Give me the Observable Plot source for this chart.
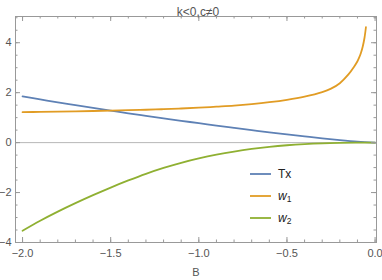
<!DOCTYPE html>
<html><head><meta charset="utf-8">
<script src="https://cdn.jsdelivr.net/npm/d3@7"></script>
<script src="https://cdn.jsdelivr.net/npm/@observablehq/plot@0.6"></script>
<style>
body{margin:0;background:#fff;font-family:"Liberation Sans",Arial,sans-serif;}
#wrap{position:relative;width:382px;height:280px;}
#legend{position:absolute;left:250px;top:163px;font-size:12px;color:#222;}
#legend .row{display:flex;align-items:center;height:22px;}
#legend svg{margin-right:7px;}
#legend sub{font-size:8.5px;vertical-align:-2px;}
</style>
</head><body><div id="wrap"><div id="legend"></div></div>
<script>
// ---- data ----
const B   = [-2.0,-1.9,-1.8,-1.7,-1.6,-1.5,-1.4,-1.3,-1.2,-1.1,-1.0,-0.9,-0.8,-0.7,-0.6,-0.5,-0.4,-0.3,-0.2,-0.1,0.0];
const Tx  = [1.85,1.73,1.61,1.50,1.39,1.28,1.17,1.07,0.97,0.87,0.78,0.68,0.59,0.50,0.41,0.33,0.25,0.17,0.10,0.04,0.0];
const w2  = [-3.53,-3.13,-2.765,-2.425,-2.105,-1.80,-1.515,-1.25,-1.015,-0.81,-0.635,-0.485,-0.36,-0.255,-0.17,-0.105,-0.058,-0.027,-0.01,-0.002,0.0];
const B1  = [-2.0,-1.9,-1.8,-1.7,-1.6,-1.5,-1.4,-1.3,-1.2,-1.1,-1.0,-0.9,-0.8,-0.7,-0.6,-0.5,-0.4,-0.3,-0.25,-0.2,-0.15,-0.12,-0.1,-0.09,-0.08,-0.07,-0.06,-0.052];
const w1  = [1.22,1.23,1.24,1.252,1.265,1.28,1.297,1.316,1.338,1.365,1.397,1.44,1.485,1.545,1.62,1.715,1.84,2.02,2.16,2.38,2.74,3.03,3.26,3.41,3.60,3.85,4.20,4.62];
const xTicks = [-2,-1.5,-1,-0.5,0];
const yTicks = [-4,-2,0,2,4];
const title = "k<0,c\u22600";
const xLabel = "B";
const seriesNames = ["Tx","w1","w2"];
const seriesLabels = ["Tx","<i>w</i><sub>1</sub>","<i>w</i><sub>2</sub>"];
const colors = ["#5e81b5","#e19c24","#8fb032"];

// ---- build ----
const rows = [];
B.forEach((b,i)=>rows.push({B:b, v:Tx[i], s:"Tx"}));
B1.forEach((b,i)=>rows.push({B:b, v:w1[i], s:"w1"}));
B.forEach((b,i)=>rows.push({B:b, v:w2[i], s:"w2"}));

const W=382, H=280, mL=15, mR=6, mT=16, mB=38;
const innerW=W-mL-mR, innerH=H-mT-mB;
const xMinor = d3.range(-20,1).map(d=>d/10);
const yMinor = d3.range(-8,11).map(d=>d/2);
const fmt = d => (d<0?"\u2212":"") + Math.abs(d).toFixed(1);
const fmtY = d => (d<0?"\u2212":"") + Math.abs(d);
const frameC="#999", labC="#555";

const plot = Plot.plot({
  width:W, height:H, marginLeft:mL, marginRight:mR, marginTop:mT, marginBottom:mB,
  style:{fontFamily:"Liberation Sans, Arial, sans-serif", background:"#fff"},
  x:{domain:[-2.04,0.008]},
  y:{domain:[-4,5.05]},
  color:{domain:seriesNames, range:colors},
  marks:[
    Plot.ruleY([0],{stroke:"#b8b8b8", strokeWidth:1}),
    Plot.line(rows,{x:"B", y:"v", z:"s", stroke:"s", strokeWidth:1.8, curve:"catmull-rom"}),
    Plot.frame({stroke:frameC}),
    Plot.tickX(xMinor,{x:d=>d, insetTop:innerH-2.5, stroke:frameC}),
    Plot.tickX(xMinor,{x:d=>d, insetBottom:innerH-2.5, stroke:frameC}),
    Plot.tickX(xTicks,{x:d=>d, insetTop:innerH-5, stroke:frameC}),
    Plot.tickX(xTicks,{x:d=>d, insetBottom:innerH-5, stroke:frameC}),
    Plot.tickY(yMinor,{y:d=>d, insetRight:innerW-2.5, stroke:frameC}),
    Plot.tickY(yMinor,{y:d=>d, insetLeft:innerW-2.5, stroke:frameC}),
    Plot.tickY(yTicks,{y:d=>d, insetRight:innerW-5, stroke:frameC}),
    Plot.tickY(yTicks,{y:d=>d, insetLeft:innerW-5, stroke:frameC}),
    Plot.axisX(xTicks,{anchor:"bottom", tickSize:0, tickPadding:7, tickFormat:fmt, fontSize:11, fill:labC, label:null}),
    Plot.axisY(yTicks,{anchor:"left", tickSize:0, tickPadding:4, tickFormat:fmtY, fontSize:11, fill:labC, label:null}),
    Plot.text([xLabel],{frameAnchor:"bottom", dy:33, fontSize:11, fill:labC}),
    Plot.text([title],{frameAnchor:"top", dy:-9, dx:2, fontSize:12, fill:labC})
  ]
});
document.getElementById("wrap").prepend(plot);

const lg = document.getElementById("legend");
seriesNames.forEach((s,i)=>{
  const r = document.createElement("div");
  r.className="row";
  r.innerHTML = `<svg width="21" height="4"><line x1="0" x2="21" y1="2" y2="2" stroke="${colors[i]}" stroke-width="1.8"/></svg><span>${seriesLabels[i]}</span>`;
  lg.appendChild(r);
});
</script>
</body></html>
